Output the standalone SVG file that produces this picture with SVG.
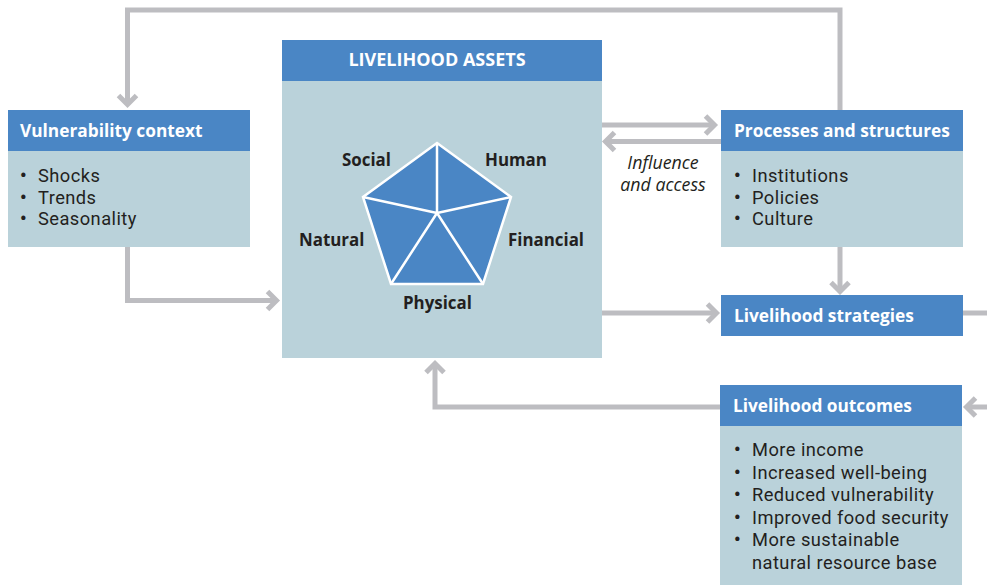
<svg xmlns="http://www.w3.org/2000/svg" width="987" height="585" viewBox="0 0 987 585">
<defs>
<style>
.hd{fill:#4a86c5}
.bd{fill:#bad2da}
.ht{font-family:"Open Sans","Noto Sans",sans-serif;font-weight:bold;font-size:17.3px;fill:#ffffff}
.bt{font-family:Roboto,"Open Sans",sans-serif;font-size:18.3px;letter-spacing:0.45px;fill:#231f20}
.bu{font-weight:bold}
.pl{font-family:"Open Sans","Noto Sans",sans-serif;font-weight:bold;font-size:16.9px;fill:#231f20}
.it{font-family:"Open Sans","Noto Sans",sans-serif;font-style:italic;font-size:17.8px;fill:#231f20}
.cn{fill:none;stroke:#bdbdc1;stroke-width:5;stroke-linejoin:miter}
.pent{fill:#4a86c5;stroke:#ffffff;stroke-width:2.5;stroke-linejoin:miter}
</style>
<marker id="ah" markerUnits="userSpaceOnUse" viewBox="-15 -15 20 30" markerWidth="20" markerHeight="30" refX="0" refY="0" orient="auto" overflow="visible">
<path d="M-9,-9 L0,0 L-9,9" fill="none" stroke="#bdbdc1" stroke-width="5"/>
</marker>
</defs>
<rect width="987" height="585" fill="#ffffff"/>
<g id="connectors">
<path class="cn" d="M840,110 V10 H127.5 V104.5" marker-end="url(#ah)"/>
<path class="cn" d="M127.5,247 V300.5 H276.5" marker-end="url(#ah)"/>
<path class="cn" d="M602,125 H714.5" marker-end="url(#ah)"/>
<path class="cn" d="M721,141.5 H605.5" marker-end="url(#ah)"/>
<path class="cn" d="M840,247 V291.5" marker-end="url(#ah)"/>
<path class="cn" d="M602,313 H716.5" marker-end="url(#ah)"/>
<path class="cn" d="M963,313 H992"/>
<path class="cn" d="M992,407 H966.5" marker-end="url(#ah)"/>
<path class="cn" d="M720,407 H435 V363.5" marker-end="url(#ah)"/>
</g>
<g id="vulnerability">
<rect class="bd" x="8" y="151" width="242" height="96"/>
<rect class="hd" x="8" y="110" width="242" height="41"/>
<text class="ht" x="20" y="137">Vulnerability context</text>
<text class="bt"><tspan class="bu" x="20" y="182">•</tspan><tspan x="38" y="182">Shocks</tspan><tspan class="bu" x="20" y="203.5">•</tspan><tspan x="38" y="203.5">Trends</tspan><tspan class="bu" x="20" y="225">•</tspan><tspan x="38" y="225">Seasonality</tspan></text>
</g>
<g id="assets">
<rect class="bd" x="282" y="81" width="320" height="277"/>
<rect class="hd" x="282" y="40" width="320" height="41"/>
<text class="ht" x="437" y="66" text-anchor="middle" style="font-size:18px">LIVELIHOOD ASSETS</text>
<polygon class="pent" points="437,143 511,197 483,284 391,284 363,197"/>
<path d="M437,143 L437,213 M511,197 L437,213 M483,284 L437,213 M391,284 L437,213 M363,197 L437,213" fill="none" stroke="#ffffff" stroke-width="2.5"/>
<text class="pl" x="342" y="166">Social</text>
<text class="pl" x="485" y="166">Human</text>
<text class="pl" x="299" y="246">Natural</text>
<text class="pl" x="508" y="246">Financial</text>
<text class="pl" x="403" y="309">Physical</text>
</g>
<g id="influence-label">
<text class="it" text-anchor="middle"><tspan x="663" y="169">Influence</tspan><tspan x="663" y="191">and access</tspan></text>
</g>
<g id="processes">
<rect class="bd" x="721" y="151" width="242" height="96"/>
<rect class="hd" x="721" y="110" width="242" height="41"/>
<text class="ht" x="734" y="137">Processes and structures</text>
<text class="bt"><tspan class="bu" x="734" y="182">•</tspan><tspan x="752" y="182">Institutions</tspan><tspan class="bu" x="734" y="203.5">•</tspan><tspan x="752" y="203.5">Policies</tspan><tspan class="bu" x="734" y="225">•</tspan><tspan x="752" y="225">Culture</tspan></text>
</g>
<g id="strategies">
<rect class="hd" x="721" y="295" width="242" height="41"/>
<text class="ht" x="734" y="322">Livelihood strategies</text>
</g>
<g id="outcomes">
<rect class="bd" x="720" y="426" width="242" height="159"/>
<rect class="hd" x="720" y="385" width="242" height="41"/>
<text class="ht" x="733" y="412">Livelihood outcomes</text>
<text class="bt"><tspan class="bu" x="734" y="456">•</tspan><tspan x="752" y="456">More income</tspan><tspan class="bu" x="734" y="478.5">•</tspan><tspan x="752" y="478.5">Increased well-being</tspan><tspan class="bu" x="734" y="501">•</tspan><tspan x="752" y="501">Reduced vulnerability</tspan><tspan class="bu" x="734" y="523.5">•</tspan><tspan x="752" y="523.5">Improved food security</tspan><tspan class="bu" x="734" y="546">•</tspan><tspan x="752" y="546">More sustainable</tspan><tspan x="752" y="568.5">natural resource base</tspan></text>
</g>
</svg>
